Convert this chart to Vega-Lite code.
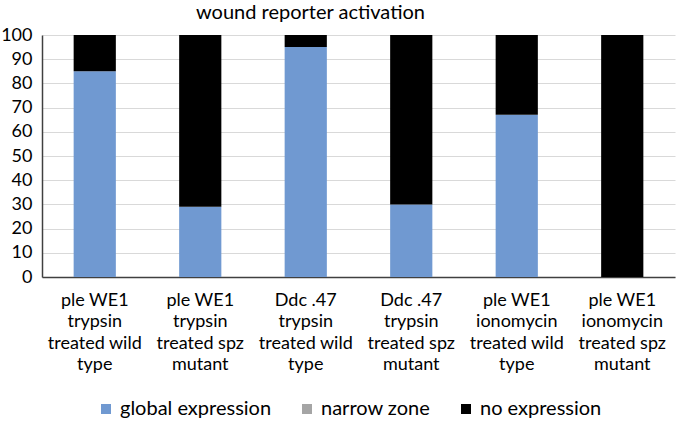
{
  "$schema": "https://vega.github.io/schema/vega-lite/v6.json",
  "width": 633,
  "height": 242,
  "autosize": {"type": "none"},
  "padding": {"left": 42, "top": 35, "right": 2, "bottom": 145},
  "background": "white",
  "title": {"text": "wound reporter activation", "font": "Lato", "fontSize": 20, "fontWeight": "normal", "color": "#000000", "anchor": "middle", "dx": -48, "offset": 3},
  "data": {"values": [
    {"cat": "ple WE1|trypsin|treated wild|type", "series": "global expression", "value": 85, "ord": 1},
    {"cat": "ple WE1|trypsin|treated wild|type", "series": "narrow zone", "value": 0, "ord": 2},
    {"cat": "ple WE1|trypsin|treated wild|type", "series": "no expression", "value": 15, "ord": 3},
    {"cat": "ple WE1|trypsin|treated spz|mutant", "series": "global expression", "value": 29, "ord": 1},
    {"cat": "ple WE1|trypsin|treated spz|mutant", "series": "narrow zone", "value": 0, "ord": 2},
    {"cat": "ple WE1|trypsin|treated spz|mutant", "series": "no expression", "value": 71, "ord": 3},
    {"cat": "Ddc .47|trypsin|treated wild|type", "series": "global expression", "value": 95, "ord": 1},
    {"cat": "Ddc .47|trypsin|treated wild|type", "series": "narrow zone", "value": 0, "ord": 2},
    {"cat": "Ddc .47|trypsin|treated wild|type", "series": "no expression", "value": 5, "ord": 3},
    {"cat": "Ddc .47|trypsin|treated spz|mutant", "series": "global expression", "value": 30, "ord": 1},
    {"cat": "Ddc .47|trypsin|treated spz|mutant", "series": "narrow zone", "value": 0, "ord": 2},
    {"cat": "Ddc .47|trypsin|treated spz|mutant", "series": "no expression", "value": 70, "ord": 3},
    {"cat": "ple WE1|ionomycin|treated wild|type", "series": "global expression", "value": 67, "ord": 1},
    {"cat": "ple WE1|ionomycin|treated wild|type", "series": "narrow zone", "value": 0, "ord": 2},
    {"cat": "ple WE1|ionomycin|treated wild|type", "series": "no expression", "value": 33, "ord": 3},
    {"cat": "ple WE1|ionomycin|treated spz|mutant", "series": "global expression", "value": 0, "ord": 1},
    {"cat": "ple WE1|ionomycin|treated spz|mutant", "series": "narrow zone", "value": 0, "ord": 2},
    {"cat": "ple WE1|ionomycin|treated spz|mutant", "series": "no expression", "value": 100, "ord": 3}
  ]},
  "mark": {"type": "bar"},
  "encoding": {
    "x": {"field": "cat", "type": "nominal", "sort": null,
      "scale": {"paddingInner": 0.6, "paddingOuter": 0.3},
      "axis": {"title": null, "labelAngle": 0, "labelExpr": "split(datum.label, '|')", "labelFont": "Lato", "labelFontSize": 18, "labelLineHeight": 21.5, "labelColor": "#000000", "labelPadding": 14, "ticks": false, "domainColor": "#404040", "domainWidth": 1.5, "labelBaseline": "top"}},
    "y": {"field": "value", "type": "quantitative", "stack": "zero",
      "scale": {"domain": [0, 100], "nice": false},
      "axis": {"title": null, "values": [0,10,20,30,40,50,60,70,80,90,100], "labelFont": "Lato", "labelFontSize": 18, "labelColor": "#000000", "labelPadding": 10, "ticks": false, "gridColor": "#D9D9D9", "gridWidth": 1, "domainColor": "#404040", "domainWidth": 1.5}},
    "color": {"field": "series", "type": "nominal",
      "scale": {"domain": ["global expression", "narrow zone", "no expression"], "range": ["#7099D1", "#A5A5A5", "#000000"]},
      "legend": {"title": null, "orient": "none", "legendX": 54, "legendY": 364, "direction": "horizontal", "symbolType": "square", "symbolSize": 100, "symbolStrokeWidth": 0, "symbolOpacity": 1, "labelFont": "Lato", "labelFontSize": 20, "labelColor": "#000000", "labelOffset": 4, "columnPadding": 25}},
    "order": {"field": "ord", "type": "quantitative"}
  },
  "config": {"view": {"stroke": null}}
}
